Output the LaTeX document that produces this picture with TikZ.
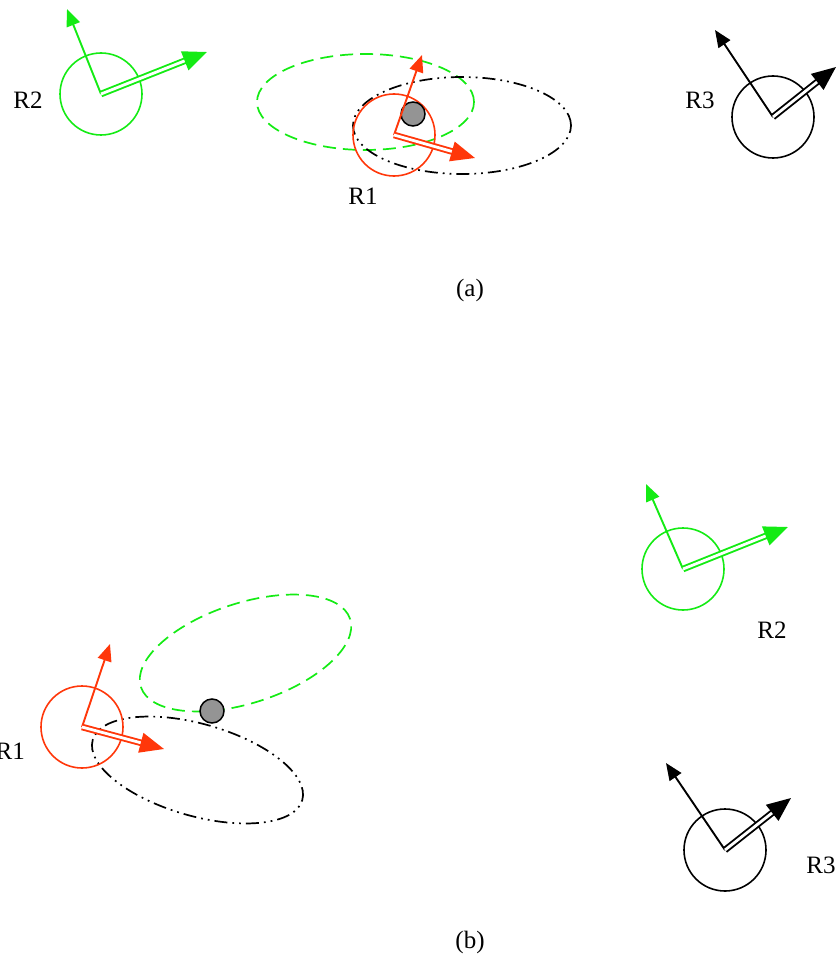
\documentclass[tikz,border=0pt]{standalone}
\usepackage{fontspec}
\setmainfont{Liberation Serif}
\usetikzlibrary{arrows.meta,positioning}
\definecolor{robgreen}{RGB}{20,235,20}
\definecolor{robred}{RGB}{255,55,10}

\begin{document}
\begin{tikzpicture}[x=1pt,y=-1pt,
		robot/.style={circle,draw,line width=1.6pt,minimum size=82pt,inner sep=0pt},
		heading/.style={-{Triangle[length=17pt,width=14pt]},line width=1.9pt},
		motion/.style={double,double distance=2.8pt,line width=1.9pt,-{Triangle[length=24pt,width=20pt]}},
		ball/.style={circle,draw,line width=1.5pt,fill=black!42,minimum size=24pt,inner sep=0pt},
		lbl/.style={font=\fontsize{25}{29}\selectfont,inner sep=0pt},
		greenel/.style={draw=robgreen,line width=1.7pt,dash pattern=on 13pt off 7pt},
		blackel/.style={draw=black,line width=1.7pt,dash pattern=on 13pt off 5pt on 1.8pt off 5pt on 1.8pt off 5pt}]
			\useasboundingbox (0,0) rectangle (835,960);
			% (a)
			\draw[greenel] (365.5,102) ellipse (108.5pt and 48pt);
			\draw[blackel] (462,125.5) ellipse (109pt and 48.5pt);
			\node[robot,draw=robgreen] (r2a) at (101,94) {};
			\node[robot,draw=robred] (r1a) at (394,135) {};
			\node[robot] (r3a) at (773,117) {};
			\node[ball] (pa) at (413,114) {};
			\coordinate (h2a) at (67,9);
			\coordinate (m2a) at (207,52);
			\coordinate (h1a) at (422,55);
			\coordinate (m1a) at (475,158);
			\coordinate (h3a) at (715,30);
			\coordinate (m3a) at (836,67);
			\draw[heading,robgreen] (r2a.center) -- (h2a);
			\draw[motion,robgreen] (r2a.center) -- (m2a);
			\draw[heading,robred] (r1a.center) -- (h1a);
			\draw[motion,robred] (r1a.center) -- (m1a);
			\draw[heading] (r3a.center) -- (h3a);
			\draw[motion] (r3a.center) -- (m3a);
			\node[lbl] (l2a) at (28,100) {R2};
			\node[lbl] (l1a) at (363,196) {R1};
			\node[lbl] (l3a) at (700,100) {R3};
			\node[lbl] (capa) at (470,290) {(a)};
			% (b)
			\draw[greenel,rotate around={18:(245.5,653)}] (245.5,653) ellipse (110pt and 50pt);
			\draw[blackel,rotate around={-16:(197.5,770)}] (197.5,770) ellipse (109pt and 46pt);
			\node[robot,draw=robred] (r1b) at (82,727) {};
			\node[robot,draw=robgreen] (r2b) at (683,569) {};
			\node[robot] (r3b) at (725,850) {};
			\node[ball] (pb) at (212,711) {};
			\coordinate (h1b) at (110,644);
			\coordinate (m1b) at (164,749);
			\coordinate (h2b) at (646,484);
			\coordinate (m2b) at (788,527);
			\coordinate (h3b) at (666,763);
			\coordinate (m3b) at (791,798);
			\draw[heading,robred] (r1b.center) -- (h1b);
			\draw[motion,robred] (r1b.center) -- (m1b);
			\draw[heading,robgreen] (r2b.center) -- (h2b);
			\draw[motion,robgreen] (r2b.center) -- (m2b);
			\draw[heading] (r3b.center) -- (h3b);
			\draw[motion] (r3b.center) -- (m3b);
			\node[lbl,anchor=east] (l1b) at (25,751) {R1};
			\node[lbl] (l2b) at (772,630) {R2};
			\node[lbl] (l3b) at (821,865) {R3};
			\node[lbl] (capb) at (470,942) {(b)};
		\end{tikzpicture}
\end{document}
